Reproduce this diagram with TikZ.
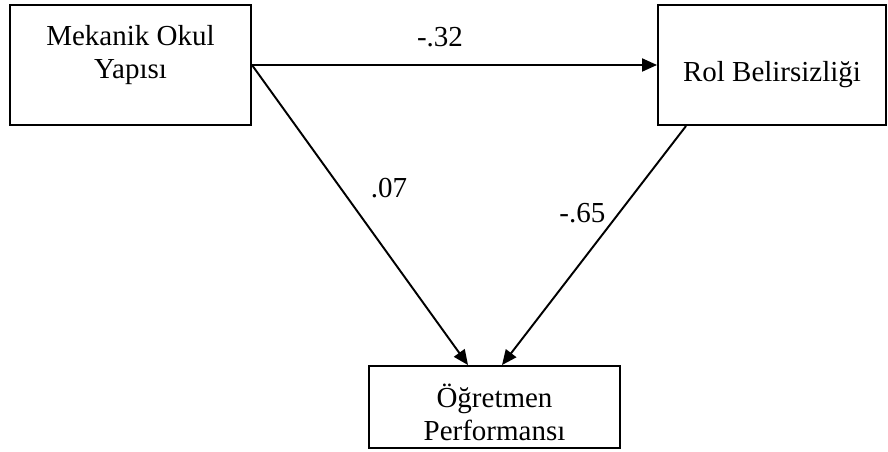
\documentclass[tikz,border=0pt]{standalone}
\usepackage{fontspec}
\setmainfont{Liberation Serif}
\usepackage{tikz}
\usetikzlibrary{arrows.meta}
\usetikzlibrary{positioning}

\begin{document}
\begin{tikzpicture}
        [box/.style={rectangle,draw=black,line width=1.1pt,inner sep=0pt},
        txt/.style={align=center,inner sep=0pt,font=\fontsize{16.5}{18.8}\selectfont},
        lbl/.style={inner sep=0pt,font=\fontsize{16.5}{18.8}\selectfont},
        to/.style={-{Triangle[length=0.3cm,width=0.26cm]},line width=1.1pt}]

\useasboundingbox (0,0) rectangle (17.76,9.04);

% boxes
\node[box,minimum width=4.82cm,minimum height=2.4cm] at (2.61,7.74) (mekanik) {};
\node[txt] at ([yshift=0.2cm]mekanik.center) (mekaniktxt) {Mekanik Okul\\Yapısı};

\node[box,minimum width=4.56cm,minimum height=2.4cm] at (15.44,7.74) (rol) {};
\node[txt] at ([yshift=-0.2cm]rol.center) (roltxt) {Rol Belirsizliği};

\node[box,minimum width=5.02cm,minimum height=1.64cm] at (9.89,0.9) (performans) {};
\node[txt] at ([yshift=-0.1cm]performans.center) (performanstxt) {Öğretmen\\Performansı};

%arrows
\draw[to] (mekanik.east) -- node[lbl,midway,yshift=0.56cm,xshift=-0.29cm] {-.32} (rol.west);
\draw[to] (mekanik.east) -- node[lbl,pos=0.41,xshift=0.97cm] {.07} ([xshift=-0.53cm]performans.north);
\draw[to] ([xshift=0.58cm]rol.south west) -- node[lbl,pos=0.365,xshift=-0.73cm] {-.65} ([xshift=0.15cm]performans.north);

\end{tikzpicture}
\end{document}
